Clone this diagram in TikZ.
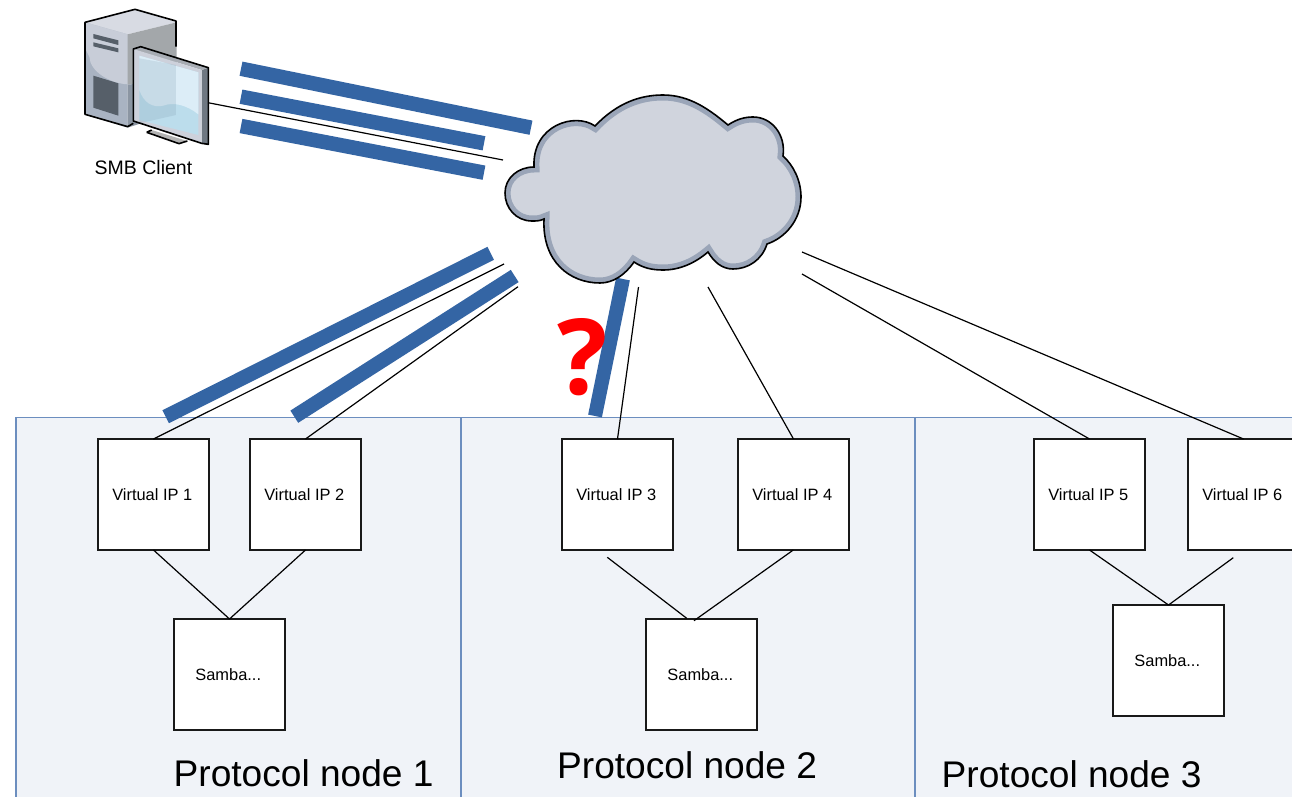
\documentclass[tikz,border=0pt]{standalone}
\usepackage{fontspec}
\setmainfont{Liberation Sans}
\newfontfamily\qfont{Open Sans}
\usetikzlibrary{calc}
\definecolor{barblue}{HTML}{3465A4}
\definecolor{panelfill}{HTML}{F0F3F8}
\definecolor{paneledge}{HTML}{6C8EBF}
\definecolor{cloudfill}{HTML}{D0D4DD}
\definecolor{cloudrim}{HTML}{9AA5B8}
\definecolor{pctop}{HTML}{D8DBE3}
\definecolor{pcleft}{HTML}{A9B3C2}
\definecolor{pcblob}{HTML}{C8CDD8}
\definecolor{pcright}{HTML}{A3A7AA}
\definecolor{pclow}{HTML}{8B95A2}
\definecolor{pcdark}{HTML}{565F69}
\definecolor{monside}{HTML}{6F7882}
\definecolor{montop}{HTML}{A7ACB3}
\definecolor{monfront}{HTML}{CDD1DB}
\definecolor{scrlow}{HTML}{BCDDEC}
\definecolor{scrhigh}{HTML}{DCEDF7}
\definecolor{scrghost}{HTML}{7F9DB0}
\newcommand{\boxtext}[1]{\hspace*{-2.5pt}#1}
\tikzset{
  panelbox/.style={draw=paneledge,fill=panelfill,line width=1.2pt},
  vbox/.style={draw=black!90,fill=white,line width=1.1pt,minimum width=111pt,minimum height=111pt,inner sep=0pt,outer sep=0pt,font=\fontsize{16.4}{19}\selectfont},
  bar/.style={draw=barblue,line width=14.5pt},
  wire/.style={draw=black,line width=1.2pt},
  title/.style={anchor=base west,inner sep=0pt,font=\fontsize{37.1}{40}\selectfont},
  pcedge/.style={draw=black,line width=1.6pt,line join=round}
}
\newcommand{\cloudpath}{(534,167) .. controls (532,125) and (575,112) .. (595,126)
  .. controls (617,103) and (640,95) .. (663,95)
  .. controls (690,95) and (710,110) .. (728,125)
  .. controls (737,119) and (745,117) .. (753,117)
  .. controls (772,117) and (786,135) .. (783,156)
  .. controls (793,165) and (801,180) .. (801,197)
  .. controls (801,220) and (785,238) .. (767,244)
  .. controls (762,260) and (748,269) .. (733,269)
  .. controls (722,269) and (714,262) .. (708,252)
  .. controls (695,263) and (680,270) .. (663,270)
  .. controls (652,270) and (643,268) .. (634,262)
  .. controls (625,275) and (613,283) .. (600,283)
  .. controls (570,283) and (542,262) .. (544,219)
  .. controls (540,221) and (536,221) .. (532,221)
  .. controls (516,221) and (505,208) .. (505,193)
  .. controls (505,178) and (518,167) .. (534,167) -- cycle}
\begin{document}
\begin{tikzpicture}[x=1pt,y=-1pt]
\useasboundingbox (0,0) rectangle (1292,797);
\clip (0,0) rectangle (1292,797);
\fill[white] (0,0) rectangle (1292,797);

% panels
\node[panelbox,anchor=north west,minimum width=445pt,minimum height=400pt,inner sep=0pt,outer sep=0pt] (p1) at (16,417.5) {};
\node[panelbox,anchor=north west,minimum width=454pt,minimum height=400pt,inner sep=0pt,outer sep=0pt] (p2) at (461,417.5) {};
\node[panelbox,anchor=north west,minimum width=400pt,minimum height=400pt,inner sep=0pt,outer sep=0pt] (p3) at (915,417.5) {};

% boxes
\node[vbox] (v1) at (153.5,494.5) {\boxtext{Virtual IP 1}};
\node[vbox] (v2) at (305.5,494.5) {\boxtext{Virtual IP 2}};
\node[vbox] (v3) at (617.5,494.5) {\boxtext{Virtual IP 3}};
\node[vbox] (v4) at (793.5,494.5) {\boxtext{Virtual IP 4}};
\node[vbox] (v5) at (1089.5,494.5) {\boxtext{Virtual IP 5}};
\node[vbox] (v6) at (1243.5,494.5) {\boxtext{Virtual IP 6}};
\node[vbox] (s1) at (229.5,674.5) {\boxtext{Samba...}};
\node[vbox] (s2) at (701.5,674.5) {\boxtext{Samba...}};
\node[vbox] (s3) at (1168.5,660.5) {\boxtext{Samba...}};

% free ends
\coordinate (ba1) at (241,68.7);  \coordinate (bb1) at (531,127.7);
\coordinate (ba2) at (241,96.7);  \coordinate (bb2) at (484,143.3);
\coordinate (ba3) at (241,126);   \coordinate (bb3) at (484,172.7);
\coordinate (ba4) at (490.7,253.3); \coordinate (bb4) at (165.7,416.7);
\coordinate (ba5) at (514.7,276); \coordinate (bb5) at (294.3,416.7);
\coordinate (ba6) at (623,279);   \coordinate (bb6) at (595,416);
\coordinate (pc) at (207,102.5);  \coordinate (cl) at (503,160);
\coordinate (c1) at (504,264);  \coordinate (c2) at (518,286.7);
\coordinate (c3) at (638.5,287); \coordinate (c4) at (708,287);
\coordinate (c5) at (802,274);  \coordinate (c6) at (802,252);
\coordinate (m2l) at (607.3,557.3); \coordinate (m2r) at (686.7,618.3);
\coordinate (n2l) at (694,620.7);
\coordinate (m6) at (1233.3,557.7);
\coordinate (v4b) at (793.3,550);

% bars
\draw[bar] (ba1) -- (bb1);
\draw[bar] (ba2) -- (bb2);
\draw[bar] (ba3) -- (bb3);
\draw[bar] (ba4) -- (bb4);
\draw[bar] (ba5) -- (bb5);
\draw[bar,line width=14pt] (ba6) -- (bb6);

% wires
\draw[wire] (pc) -- (cl);
\draw[wire] (c1) -- (v1.north);
\draw[wire] (c2) -- (v2.north);
\draw[wire] (c3) -- (v3.north);
\draw[wire] (c4) -- (v4.north);
\draw[wire] (c5) -- (v5.north);
\draw[wire] (c6) -- (v6.north);
\draw[wire] (v1.south) -- (s1.north);
\draw[wire] (v2.south) -- (s1.north);
\draw[wire] (m2l) -- (m2r);
\draw[wire] (v4b) -- (n2l);
\draw[wire] (v5.south) -- (s3.north);
\draw[wire] (m6) -- (s3.north);

% cloud
\begin{scope}
  \fill[cloudfill] \cloudpath;
  \begin{scope}
    \clip \cloudpath;
    \draw[cloudrim,line width=11pt] \cloudpath;
  \end{scope}
  \draw[black,line width=1.6pt] \cloudpath;
\end{scope}

% computer
\begin{scope}[x=0.33333pt,y=-0.33333pt,shift={(240,45)}]
  % stand
  \fill[gray!60] (200,352) -- (215,345) -- (322,378) -- (297,386) -- cycle;
  \draw[pcedge] (200,352) -- (215,345) (200,352) -- (297,386) -- (322,378);
  % tower
  \fill[pctop] (15,22) -- (165,-17) -- (290,22) -- (143,58) -- cycle;
  \fill[pcleft] (15,22) -- (143,58) -- (143,338) -- (15,298) -- cycle;
  \fill[pcblob] (15,22) -- (143,58) -- (143,208) .. controls (90,205) and (30,170) .. (28,125) -- (15,100) -- cycle;
  \fill[pcright] (143,58) -- (290,22) -- (290,205) -- (143,208) -- cycle;
  \fill[pclow] (143,208) -- (290,205) -- (290,290) -- (143,338) -- cycle;
  \fill[pcdark] (40,182) -- (115,205) -- (115,302) -- (40,278) -- cycle;
  \fill[pcdark] (40,57) -- (115,76) -- (115,90) -- (40,70) -- cycle;
  \fill[pcdark] (40,82) -- (115,100) -- (115,112) -- (40,94) -- cycle;
  \draw[pcedge] (160,325) -- (143,335) -- (15,298) -- (15,22) -- (165,-17) -- (288,18) -- (288,95);
  % monitor
  \fill[monside] (365,165) -- (385,158) -- (385,388) -- (365,385) -- cycle;
  \fill[montop] (160,102) -- (182,95) -- (385,158) -- (365,165) -- cycle;
  \fill[monfront] (160,102) -- (365,165) -- (365,385) -- (160,318) -- cycle;
  \fill[scrlow] (178,122) -- (355,172) -- (355,360) -- (178,315) -- cycle;
  \fill[scrhigh] (178,122) -- (355,172) -- (355,298) .. controls (320,270) and (280,260) .. (250,272) .. controls (215,280) and (190,260) .. (178,225) -- cycle;
  \fill[scrghost,opacity=.22] (178,130) -- (288,150) -- (288,300) -- (178,325) -- cycle;
  \draw[pcedge] (160,102) -- (182,95) -- (385,158) -- (385,388) -- (365,385) -- (160,318) -- cycle;
\end{scope}

% labels
\node[anchor=base,inner sep=0pt,font=\fontsize{19.5}{24}\selectfont] (clientlabel) at (143.5,174) {SMB Client};
\node[title] (t1) at (173.5,786.7) {Protocol node 1};
\node[title] (t2) at (557,778.5) {Protocol node 2};
\node[title] (t3) at (941.5,787.5) {Protocol node 3};
\node[anchor=base,inner sep=0pt,text=red,font=\fontsize{105}{110}\qfont\bfseries] (q) at (583,394.5) {?};
\end{tikzpicture}
\end{document}
